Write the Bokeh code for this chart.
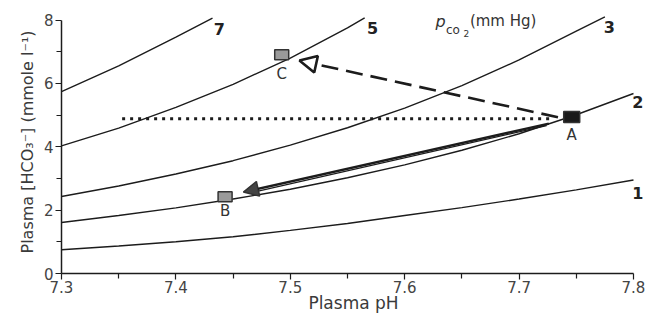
from bokeh.plotting import figure
from bokeh.models import (Range1d, FixedTicker, Arrow, NormalHead,
                          ColumnDataSource)
from bokeh.embed import file_html
from bokeh.resources import INLINE
from bokeh.core.properties import value

# ---- data ----
x_ticks = [7.3, 7.4, 7.5, 7.6, 7.7, 7.8]
x_minor = [7.35, 7.45, 7.55, 7.65, 7.75]
y_ticks = [0, 2, 4, 6, 8]
y_minor = [1, 3, 5, 7]

ph_full = [7.30, 7.35, 7.40, 7.45, 7.50, 7.55, 7.60, 7.65, 7.70, 7.75, 7.80]
hco3_p1 = [0.75, 0.87, 1.00, 1.16, 1.36, 1.58, 1.83, 2.08, 2.35, 2.64, 2.95]
hco3_p2 = [1.61, 1.83, 2.07, 2.35, 2.66, 3.02, 3.43, 3.89, 4.41, 5.01, 5.68]
ph_p3 = [7.30, 7.35, 7.40, 7.45, 7.50, 7.55, 7.60, 7.65, 7.70, 7.75, 7.775]
hco3_p3 = [2.43, 2.76, 3.14, 3.56, 4.05, 4.60, 5.22, 5.93, 6.74, 7.65, 8.10]
ph_p5 = [7.30, 7.35, 7.40, 7.45, 7.50, 7.55, 7.565]
hco3_p5 = [4.03, 4.59, 5.24, 5.97, 6.80, 7.75, 8.07]
ph_p7 = [7.30, 7.35, 7.40, 7.432]
hco3_p7 = [5.74, 6.55, 7.46, 8.06]

curve_labels = ["7", "5", "3", "2", "1"]
curve_label_ph = [7.433, 7.567, 7.774, 7.799, 7.799]
curve_label_hco3 = [7.73, 7.76, 7.79, 5.40, 2.54]

point_names = ["A", "B", "C"]
point_ph = [7.746, 7.443, 7.4925]
point_hco3 = [4.94, 2.42, 6.90]
point_label_hco3 = [4.36, 1.97, 6.30]

# dotted isobicarbonate line
dotted_ph = [7.353, 7.727]
dotted_hco3 = [4.88, 4.88]
# dashed arrow A -> C
dash_start = (7.734, 4.93)
dash_end = (7.508, 6.72)
# solid arrow A -> B (drawn as a double line)
solid_start = (7.726, 4.73)
solid_end = (7.459, 2.57)
solid2_start = (7.724, 4.665)
solid2_end = (7.47, 2.585)

FONT = "DejaVu Sans"
LINE = "#1c1c1c"
TXT = "#333333"

p = figure(width=647, height=315, output_backend="svg", toolbar_location=None,
           x_range=Range1d(7.3, 7.8105), y_range=Range1d(0, 8.3),
           min_border_left=61, min_border_right=2, min_border_top=10,
           min_border_bottom=20)
p.outline_line_color = None
p.grid.visible = False
p.background_fill_color = "white"

# axes
p.xaxis.ticker = FixedTicker(ticks=x_ticks, minor_ticks=x_minor)
p.yaxis.ticker = FixedTicker(ticks=y_ticks, minor_ticks=y_minor)
p.xaxis.bounds = (x_ticks[0], x_ticks[-1])
p.yaxis.bounds = (y_ticks[0], y_ticks[-1])
for ax in (p.xaxis, p.yaxis):
    ax.axis_line_color = LINE
    ax.axis_line_width = 1.5
    ax.major_tick_line_color = LINE
    ax.minor_tick_line_color = LINE
    ax.major_tick_line_width = 1.2
    ax.minor_tick_line_width = 1.2
    ax.major_tick_in = 0
    ax.major_tick_out = 6
    ax.minor_tick_in = 0
    ax.minor_tick_out = 5
    ax.major_label_text_font = FONT
    ax.major_label_text_font_size = "15px"
    ax.major_label_text_color = "#444444"
    ax.axis_label_text_font = FONT
    ax.axis_label_text_font_size = "16px"
    ax.axis_label_text_font_style = "normal"
    ax.axis_label_text_color = "#3a3a3a"
    ax.major_label_standoff = 2
p.xaxis.major_label_standoff = 1
p.xaxis.axis_label_standoff = -3
p.yaxis.axis_label_standoff = 4
p.xaxis.axis_label_text_font_size = "17px"
p.xaxis.axis_label = "Plasma pH"
p.yaxis.axis_label = "Plasma [HCO\u2083\u207b] (mmole l\u207b\u00b9)"

# isopleths
for xs, ys in [(ph_full, hco3_p1), (ph_full, hco3_p2), (ph_p3, hco3_p3),
               (ph_p5, hco3_p5), (ph_p7, hco3_p7)]:
    p.line(xs, ys, line_color=LINE, line_width=1.4)

p.text(curve_label_ph, curve_label_hco3, text=curve_labels,
       text_font=value(FONT), text_font_size="16px", text_font_style="bold",
       text_color="#222222", text_align="left", text_baseline="middle")

# dotted line
p.line(dotted_ph, dotted_hco3, line_color=LINE, line_width=3,
       line_dash="3 5")

# dashed arrow A -> C
p.add_layout(Arrow(x_start=dash_start[0], y_start=dash_start[1],
                   x_end=dash_end[0], y_end=dash_end[1],
                   line_color=LINE, line_width=2.6, line_dash="17 8",
                   end=NormalHead(size=17, fill_color="white", line_color=LINE,
                                  line_width=2.6)))

# solid double arrow A -> B
p.line([solid2_start[0], solid2_end[0]], [solid2_start[1], solid2_end[1]],
       line_color=LINE, line_width=1.2)
p.add_layout(Arrow(x_start=solid_start[0], y_start=solid_start[1],
                   x_end=solid_end[0], y_end=solid_end[1],
                   line_color=LINE, line_width=2.4,
                   end=NormalHead(size=15, fill_color="#444444",
                                  line_color="#333333", line_width=1.5)))

# points
src = ColumnDataSource(dict(x=point_ph, y=point_hco3, ly=point_label_hco3,
                            name=point_names,
                            fill=["#1a1a1a", "#9a9a9a", "#9a9a9a"],
                            w=[16, 14, 14], h=[11, 10, 10]))
p.rect(x="x", y="y", width="w", height="h", width_units="screen",
       height_units="screen", fill_color="fill", line_color="#333333",
       line_width=1.5, source=src)
p.text(x="x", y="ly", text="name", source=src, text_font=value(FONT),
       text_font_size="15px", text_color=TXT, text_align="center",
       text_baseline="middle")

# pCO2 (mm Hg) heading
p.text([7.627], [7.94], text=["p"], text_font=value(FONT),
       text_font_size="16px", text_font_style="italic", text_color=TXT,
       text_align="left", text_baseline="alphabetic")
p.text([7.636], [7.68], text=["co"], text_font=value(FONT),
       text_font_size="12px", text_color=TXT, text_align="left",
       text_baseline="alphabetic")
p.text([7.6515], [7.58], text=["2"], text_font=value(FONT),
       text_font_size="9px", text_color=TXT, text_align="left",
       text_baseline="alphabetic")
p.text([7.657], [7.97], text=["(mm Hg)"], text_font=value(FONT),
       text_font_size="15px", text_color=TXT, text_align="left",
       text_baseline="alphabetic")

open("out.html", "w").write(file_html(p, INLINE))
